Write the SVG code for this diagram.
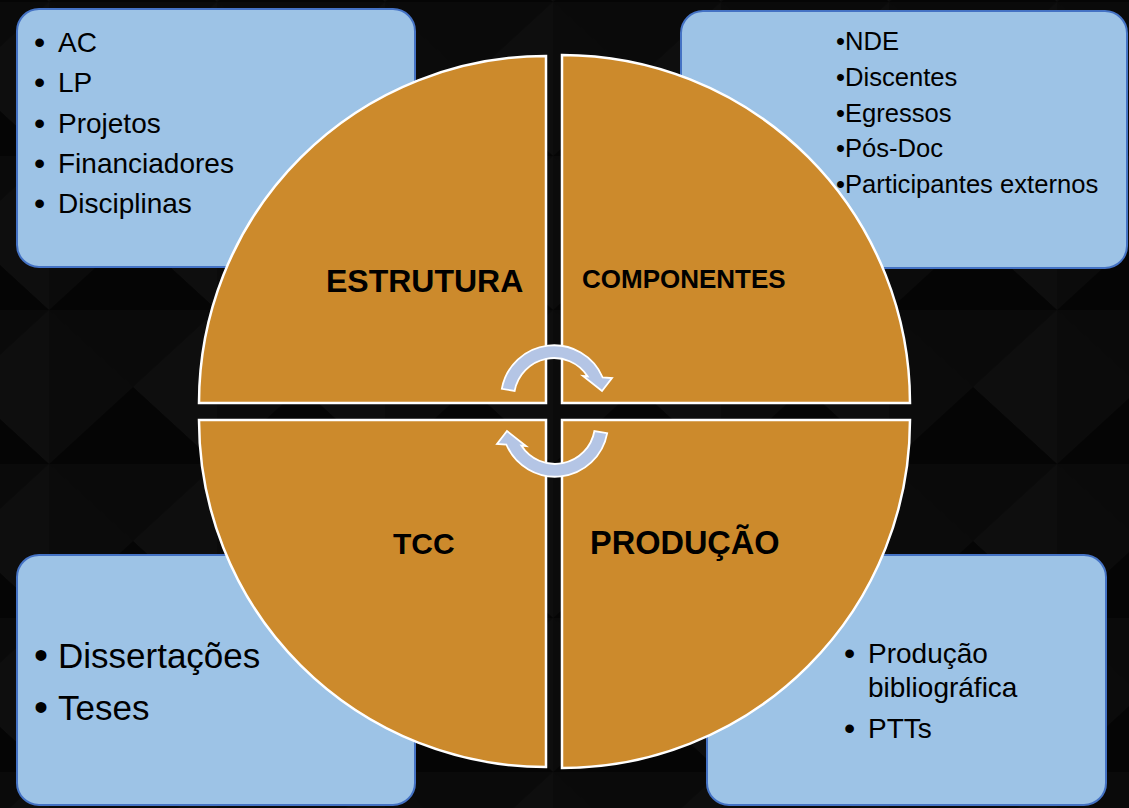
<svg xmlns="http://www.w3.org/2000/svg" width="1129" height="808" viewBox="0 0 1129 808">
  <defs>
    <pattern id="bgpat" patternUnits="userSpaceOnUse" x="49" y="2" width="168" height="154">
      <rect width="168" height="154" fill="#050505"/>
      <polygon points="0,0 168,0 84,77" fill="#0a0a0a"/>
      <polygon points="168,0 168,154 84,77" fill="#0e0e0e"/>
      <polygon points="0,154 168,154 84,77" fill="#050505"/>
      <polygon points="0,0 0,154 84,77" fill="#0b0b0b"/>
    </pattern>
    <style>
      .box { fill: #9DC3E6; stroke: #4472C4; stroke-width: 2; }
      .quad { fill: #CC8A2C; stroke: #FFFFFF; stroke-width: 2.5; }
      .arrow { fill: #B4C5E5; stroke: #FFFFFF; stroke-width: 1.8; stroke-linejoin: miter; }
      .t { font-family: "Liberation Sans", Arial, sans-serif; fill: #000000; }
      .lbl { font-family: "Liberation Sans", Arial, sans-serif; font-weight: bold; fill: #000000; }
    </style>
  </defs>

  <rect x="0" y="0" width="1129" height="808" fill="url(#bgpat)"/>

  <g id="box-estrutura">
    <rect class="box" x="17" y="9" width="398" height="258" rx="22" ry="22"/>
    <g class="t" font-size="28">
      <text x="34" y="53" font-size="32">•</text><text x="58" y="52">AC</text>
      <text x="34" y="93" font-size="32">•</text><text x="58" y="92">LP</text>
      <text x="34" y="134" font-size="32">•</text><text x="58" y="133">Projetos</text>
      <text x="34" y="174" font-size="32">•</text><text x="58" y="173">Financiadores</text>
      <text x="34" y="214" font-size="32">•</text><text x="58" y="213">Disciplinas</text>
    </g>
  </g>

  <g id="box-componentes">
    <rect class="box" x="681" y="11" width="446" height="257" rx="22" ry="22"/>
    <g class="t" font-size="25.6">
      <text x="836" y="50">•NDE</text>
      <text x="836" y="86">•Discentes</text>
      <text x="836" y="122">•Egressos</text>
      <text x="836" y="157">•Pós-Doc</text>
      <text x="836" y="193">•Participantes externos</text>
    </g>
  </g>

  <g id="box-tcc">
    <rect class="box" x="17" y="555" width="398" height="250" rx="22" ry="22"/>
    <g class="t" font-size="35">
      <text x="34" y="669" font-size="40">•</text><text x="58" y="668">Dissertações</text>
      <text x="34" y="721" font-size="40">•</text><text x="58" y="720">Teses</text>
    </g>
  </g>

  <g id="box-producao">
    <rect class="box" x="707" y="555" width="399" height="250" rx="22" ry="22"/>
    <g class="t" font-size="28">
      <text x="844" y="664" font-size="32">•</text><text x="868" y="663">Produção</text>
      <text x="868" y="697">bibliográfica</text>
      <text x="844" y="739" font-size="32">•</text><text x="868" y="738">PTTs</text>
    </g>
  </g>

  <g id="quad-estrutura">
    <path class="quad" d="M546,403 L199,403 A347,347 0 0 1 546,56 Z"/>
    <text class="lbl" x="326" y="292" font-size="32">ESTRUTURA</text>
  </g>
  <g id="quad-componentes">
    <path class="quad" d="M562,403 L562,55 A348,348 0 0 1 910,403 Z"/>
    <text class="lbl" x="582" y="288" font-size="26">COMPONENTES</text>
  </g>
  <g id="quad-tcc">
    <path class="quad" d="M546,420 L546,767 A347,347 0 0 1 199,420 Z"/>
    <text class="lbl" x="393" y="554" font-size="30">TCC</text>
  </g>
  <g id="quad-producao">
    <path class="quad" d="M562,420 L910,420 A348,348 0 0 1 562,768 Z"/>
    <text class="lbl" x="590" y="554" font-size="32.5">PRODUÇÃO</text>
  </g>

  <g id="connectors">
    <path class="arrow" d="M501.8,388.8 A53,53 0 0 1 602.7,377.5 L612,378 L602,391 L583,376 L587.7,376.5 A40,40 0 0 0 514.6,391 Z"/>
    <path class="arrow" transform="rotate(180 554.5 411)" d="M501.8,388.8 A53,53 0 0 1 602.7,377.5 L612,378 L602,391 L583,376 L587.7,376.5 A40,40 0 0 0 514.6,391 Z"/>
  </g>
</svg>
